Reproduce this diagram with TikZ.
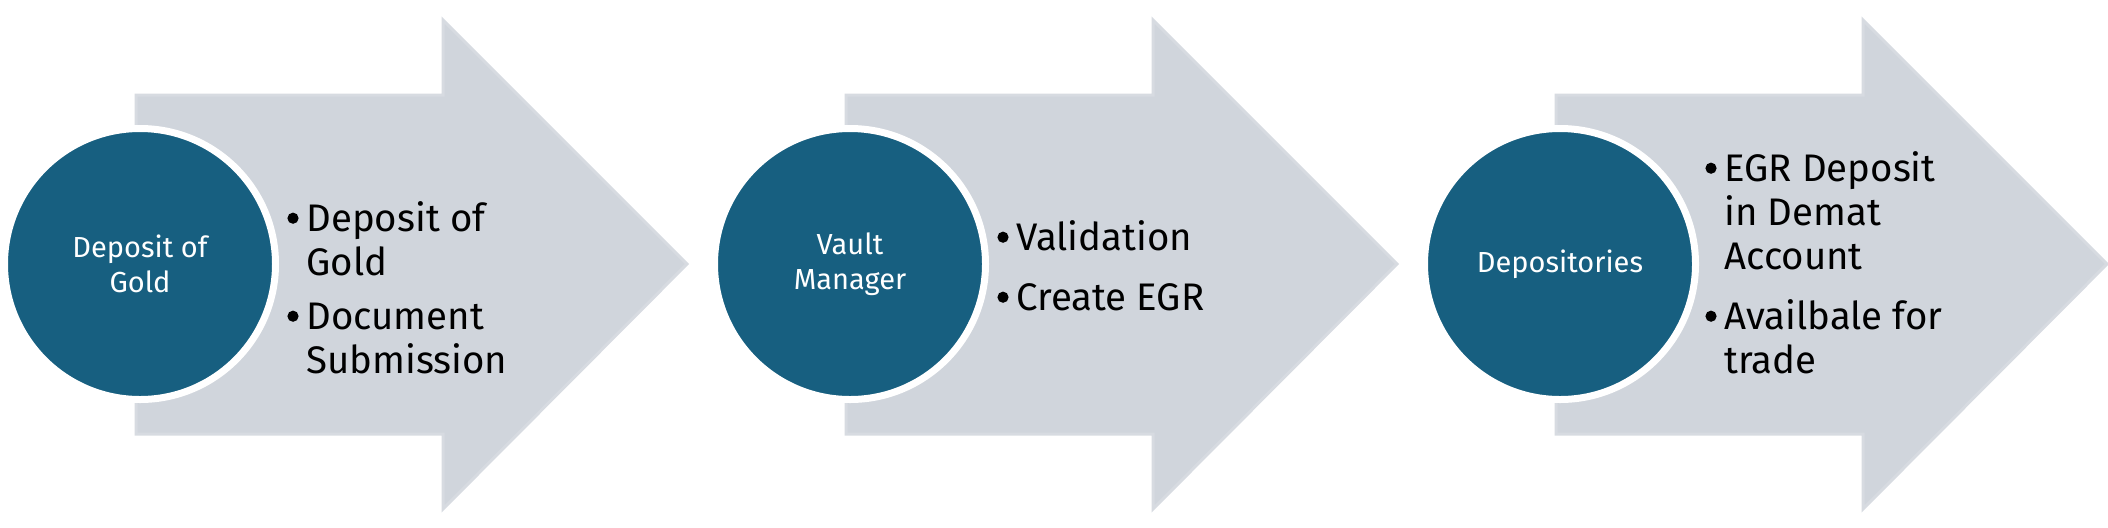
\documentclass[tikz,border=0pt]{standalone}
\usepackage{fontspec}
\setmainfont{Fira Sans}
\definecolor{stageblue}{HTML}{175F80}
\definecolor{arrowgrey}{HTML}{D0D5DC}
\definecolor{arrowrim}{HTML}{D7DBE1}
\newcommand{\bl}{\makebox[9.5pt][l]{\tikz[x=1pt,y=1pt,baseline=0pt]\fill[black] (2.8,6.4) circle[radius=2.8pt];}}
\newcommand{\nb}{\hspace*{9.5pt}}
\begin{document}
\begin{tikzpicture}[x=0.5pt, y=-0.5pt,
    arrowbody/.style={fill=arrowgrey, draw=arrowrim, line width=1.5pt, line join=miter},
    bigarrow/.pic={\path[arrowbody] (-4,95) -- (303,95) -- (303,20) -- (547,264)
        -- (303,509) -- (303,434) -- (-4,434) -- cycle;},
    stage/.style={shape=circle, fill=stageblue, draw=white, line width=3.5pt,
        minimum size=135.5pt, inner sep=0pt, align=center, text=white,
        font=\fontsize{14.5}{17.5}\selectfont},
    bullets/.style={anchor=base west, inner sep=0pt, text=black,
        font=\fontsize{19.2}{22}\selectfont}]
    \useasboundingbox (0,0) rectangle (2108,527);
    % grey arrows
    \pic at (140,0) {bigarrow};
    \pic at (850,0) {bigarrow};
    \pic at (1560,0) {bigarrow};
    % blue circles
    \node[stage] (dep) at (140,264) {Deposit of\\Gold};
    \node[stage] (vault) at (850,264) {Vault\\Manager};
    \node[stage] (depo) at (1560,264) {Depositories};
    % bullet lists
    \node[bullets] (depitems) at (287,231) {\begin{tabular}[t]{@{}l@{}}
        \bl Deposit of\\ \nb Gold\\[5pt] \bl Document\\ \nb Submission\end{tabular}};
    \node[bullets] (vaultitems) at (997,250) {\begin{tabular}[t]{@{}l@{}}
        \bl Validation\\[8pt] \bl Create EGR\end{tabular}};
    \node[bullets] (depoitems) at (1705,181) {\begin{tabular}[t]{@{}l@{}}
        \bl EGR Deposit\\ \nb in Demat\\ \nb Account\\[8pt] \bl Availbale for\\ \nb trade\end{tabular}};
\end{tikzpicture}
\end{document}
